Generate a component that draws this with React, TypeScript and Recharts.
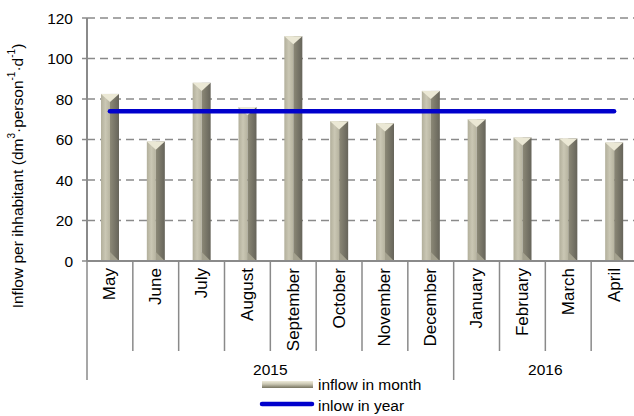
import React from "react";
import {
  ComposedChart, Bar, Line, XAxis, YAxis, CartesianGrid,
} from "recharts";

const months = [
  "May", "June", "July", "August", "September", "October",
  "November", "December", "January", "February", "March", "April",
];
const monthYears = [
  "2015", "2015", "2015", "2015", "2015", "2015",
  "2015", "2015", "2016", "2016", "2016", "2016",
];
const inflowMonth = [82.5, 59, 88, 76, 111, 69, 68, 84, 70, 61, 60.5, 58.5];
const inflowYear = [74, 74, 74, 74, 74, 74, 74, 74, 74, 74, 74, 74];
const yTicks = [0, 20, 40, 60, 80, 100, 120];

const FONT = "'Liberation Sans', Arial, sans-serif";
const AXIS_GREY = "#8a8a8a";

const data = months.map((m, i) => ({
  month: m,
  year: monthYears[i],
  inflow: inflowMonth[i],
  yearly: inflowYear[i],
}));

// prism-looking bar: light left face, dark right face, pale pyramid cap
function PrismBar(props: any) {
  const { x, y, width: w, height: h } = props;
  if (h == null || h <= 0) return null;
  const mid = x + w / 2;
  const cap = Math.min(w * 0.45, h);
  return (
    <g>
      <rect x={x} y={y} width={w / 2} height={h} fill="url(#leftFace)" />
      <rect x={mid} y={y} width={w / 2} height={h} fill="url(#rightFace)" />
      <polygon
        points={`${mid},${y + h - 9} ${x + w},${y + h} ${mid},${y + h}`}
        fill="#a4a18e"
      />
      <polygon points={`${x},${y} ${x + w},${y} ${mid},${y + cap}`} fill="#ebe8d5" />
    </g>
  );
}

function MonthTick(props: any) {
  const { x, y, payload } = props;
  const i = payload.index;
  const half = payload.offset || 22.9;
  const first = i === 0 || monthYears[i] !== monthYears[i - 1];
  const last = i === months.length - 1;
  let yearMid = 0;
  if (first) {
    let n = 0;
    while (i + n < months.length && monthYears[i + n] === monthYears[i]) n++;
    yearMid = x - half + n * half;
  }
  return (
    <g>
      <line x1={x - half} x2={x - half} y1={y} y2={y + (first ? 119 : 90)}
        stroke={AXIS_GREY} strokeWidth={1.5} />
      {last && (
        <line x1={x + half} x2={x + half} y1={y} y2={y + 119}
          stroke={AXIS_GREY} strokeWidth={1.5} />
      )}
      <text
        x={x} y={y + 7}
        transform={`rotate(-90 ${x} ${y + 7})`}
        textAnchor="end" dominantBaseline="central"
        fontSize={17} fontFamily={FONT} fill="#000"
      >
        {payload.value}
      </text>
      {first && (
        <text x={yearMid} y={y + 108} textAnchor="middle" dominantBaseline="central"
          fontSize={15.5} fontFamily={FONT} fill="#000">
          {monthYears[i]}
        </text>
      )}
    </g>
  );
}

function YLabel() {
  return (
    <text
      x={17} y={176} transform="rotate(-90 17 176)"
      textAnchor="middle" dominantBaseline="central"
      fontSize={15.5} fontFamily={FONT} fill="#000"
    >
      Inflow per ihhabitant (dm
      <tspan dy={-6} fontSize={10}>3</tspan>
      <tspan dy={6}>·person</tspan>
      <tspan dy={-6} fontSize={10}>-1</tspan>
      <tspan dy={6}>·d</tspan>
      <tspan dy={-6} fontSize={10}>-1</tspan>
      <tspan dy={6}>)</tspan>
    </text>
  );
}

function LegendBox() {
  return (
    <svg width={634} height={416} style={{ position: "absolute", left: 0, top: 0 }}>
      <defs>
        <linearGradient id="legBar" x1="0" y1="0" x2="0" y2="1">
          <stop offset="0" stopColor="#efecdb" />
          <stop offset="0.45" stopColor="#c9c6b2" />
          <stop offset="1" stopColor="#76735f" />
        </linearGradient>
      </defs>
      <rect x={262} y={381} width={51} height={7} fill="url(#legBar)" />
      <text x={318} y={384} dominantBaseline="central" fontSize={15.5}
        fontFamily={FONT} fill="#000">inflow in month</text>
      <line x1={262} x2={312} y1={404} y2={404} stroke="#0000cc"
        strokeWidth={4.5} strokeLinecap="round" />
      <text x={318} y={405} dominantBaseline="central" fontSize={15.5}
        fontFamily={FONT} fill="#000">inlow in year</text>
    </svg>
  );
}

export default function App() {
  return (
    <div style={{
      position: "absolute", left: 0, top: 0, width: 634, height: 416,
      overflow: "hidden", background: "#fff",
    }}>
      <ComposedChart
        width={640} height={416} data={data}
        margin={{ top: 18, right: 3, bottom: 35, left: 0 }}
        barCategoryGap={0}
      >
        <defs>
          <linearGradient id="leftFace" x1="0" y1="0" x2="1" y2="0">
            <stop offset="0" stopColor="#b2af9b" />
            <stop offset="0.5" stopColor="#cac7b4" />
            <stop offset="1" stopColor="#b7b4a0" />
          </linearGradient>
          <linearGradient id="rightFace" x1="0" y1="0" x2="1" y2="0">
            <stop offset="0" stopColor="#8c8977" />
            <stop offset="1" stopColor="#66645a" />
          </linearGradient>
        </defs>
        <CartesianGrid vertical={false} stroke={AXIS_GREY} strokeWidth={1.5}
          strokeDasharray="8 5" />
        <XAxis
          dataKey="month" interval={0} height={120}
          tick={<MonthTick />} tickLine={false} tickSize={0} tickMargin={0}
          axisLine={{ stroke: AXIS_GREY, strokeWidth: 2 }}
        />
        <YAxis
          width={87} domain={[0, 120]} ticks={yTicks} interval={0}
          tick={{ fontSize: 15.5, fontFamily: FONT, fill: "#000" }}
          tickSize={5} tickMargin={9}
          tickLine={{ stroke: AXIS_GREY, strokeWidth: 1.5 }}
          axisLine={{ stroke: AXIS_GREY, strokeWidth: 2 }}
        />
        <Bar dataKey="inflow" barSize={18} shape={<PrismBar />}
          isAnimationActive={false} />
        <Line dataKey="yearly" stroke="#0000cc" strokeWidth={4.5}
          strokeLinecap="round" dot={false} activeDot={false}
          isAnimationActive={false} />
        <YLabel />
      </ComposedChart>
      <LegendBox />
    </div>
  );
}
